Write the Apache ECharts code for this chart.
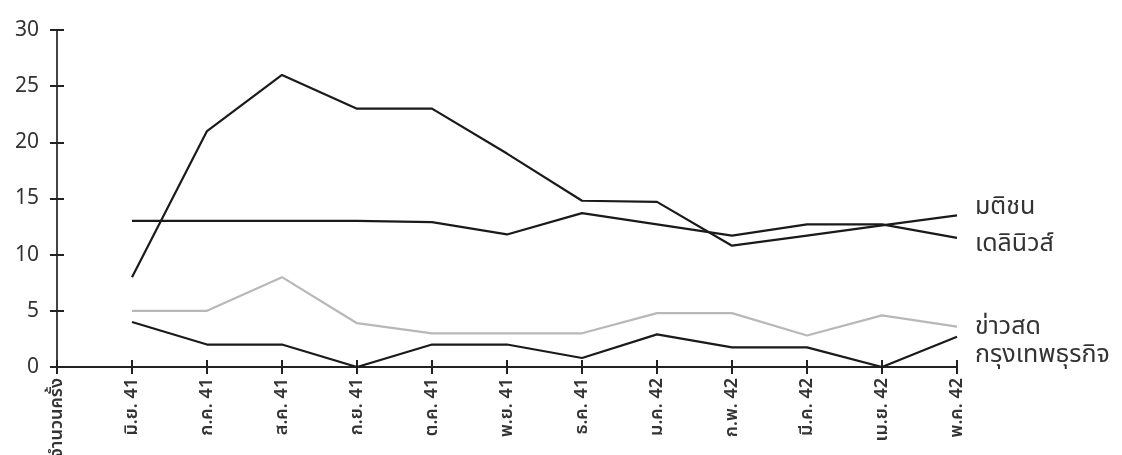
<!DOCTYPE html>
<html>
<head>
<meta charset="utf-8">
<script src="https://cdn.jsdelivr.net/npm/echarts@6/dist/echarts.min.js"></script>
<style>
html,body{margin:0;padding:0;background:#fff;}
#c{width:1122px;height:455px;}
</style>
</head>
<body>
<div id="c"></div>
<script>
const axisTitle = 'จำนวนครั้ง';
const months = ['มิ.ย. 41','ก.ค. 41','ส.ค. 41','ก.ย. 41','ต.ค. 41','พ.ย. 41','ธ.ค. 41','ม.ค. 42','ก.พ. 42','มี.ค. 42','เม.ย. 42','พ.ค. 42'];
const matichon   = [8, 21, 26, 23, 23, 19, 14.8, 14.7, 10.8, 11.7, 12.6, 13.5];
const dailynews  = [13, 13, 13, 13, 12.9, 11.8, 13.7, 12.7, 11.7, 12.7, 12.7, 11.5];
const khaosod    = [5, 5, 8, 3.9, 3, 3, 3, 4.8, 4.8, 2.8, 4.6, 3.6];
const krungthep  = [4, 2, 2, 0, 2, 2, 0.8, 2.9, 1.75, 1.75, 0, 2.7];
const seriesNames = ['มติชน','เดลินิวส์','ข่าวสด','กรุงเทพธุรกิจ'];
const yTicks = [0, 30, 5];

const cats = [axisTitle].concat(months);
const FONT = '"Noto Sans", "Noto Sans Thai", "Loma", "Garuda", "Tlwg Typist", "DejaVu Sans", sans-serif';

function mk(name, vals, color, offset) {
  return {
    name: name, type: 'line', xAxisIndex: 0, yAxisIndex: 0,
    data: [null].concat(vals),
    symbol: 'none',
    lineStyle: { color: color, width: 2.2 },
    itemStyle: { color: color },
    endLabel: {
      show: true, formatter: name, color: '#333', fontSize: 25,
      fontFamily: FONT, distance: 18, offset: offset
    },
    silent: true, animation: false
  };
}

const chart = echarts.init(document.getElementById('c'));
chart.setOption({
  animation: false,
  backgroundColor: '#fff',
  grid: { left: 57, right: 165, top: 30, bottom: 88, containLabel: false, outerBoundsMode: 'none' },
  xAxis: [{
    type: 'category', data: cats, boundaryGap: false,
    axisLine: { show: true, lineStyle: { color: '#222', width: 2 } },
    axisTick: { show: true, alignWithLabel: true, length: 7, lineStyle: { color: '#222', width: 2 } },
    axisLabel: { rotate: 90, margin: 11, fontSize: 18, fontWeight: 600, color: '#333', fontFamily: FONT, interval: 0, hideOverlap: false },
    splitLine: { show: false }
  }, {
    type: 'category', data: cats, boundaryGap: false, position: 'bottom',
    axisLine: { show: false },
    axisTick: { show: true, inside: true, length: 7, lineStyle: { color: '#222', width: 2 } },
    axisLabel: { show: false }, splitLine: { show: false }
  }],
  yAxis: [{
    type: 'value', min: yTicks[0], max: yTicks[1], interval: yTicks[2],
    axisLine: { show: true, lineStyle: { color: '#444', width: 2 } },
    axisTick: { show: true, length: 7, lineStyle: { color: '#222', width: 2 } },
    axisLabel: { fontSize: 21, color: '#333', margin: 18, fontFamily: FONT },
    splitLine: { show: false }
  }, {
    type: 'value', min: yTicks[0], max: yTicks[1], interval: yTicks[2], position: 'left',
    axisLine: { show: false },
    axisTick: { show: true, inside: true, length: 7, lineStyle: { color: '#222', width: 2 } },
    axisLabel: { show: false }, splitLine: { show: false }
  }],
  series: [
    mk(seriesNames[0], matichon, '#1a1a1a', [0, -8]),
    mk(seriesNames[1], dailynews, '#1a1a1a', [0, 6]),
    mk(seriesNames[2], khaosod, '#b8b8b8', [0, 0]),
    mk(seriesNames[3], krungthep, '#1a1a1a', [0, 18])
  ]
});
</script>
</body>
</html>
